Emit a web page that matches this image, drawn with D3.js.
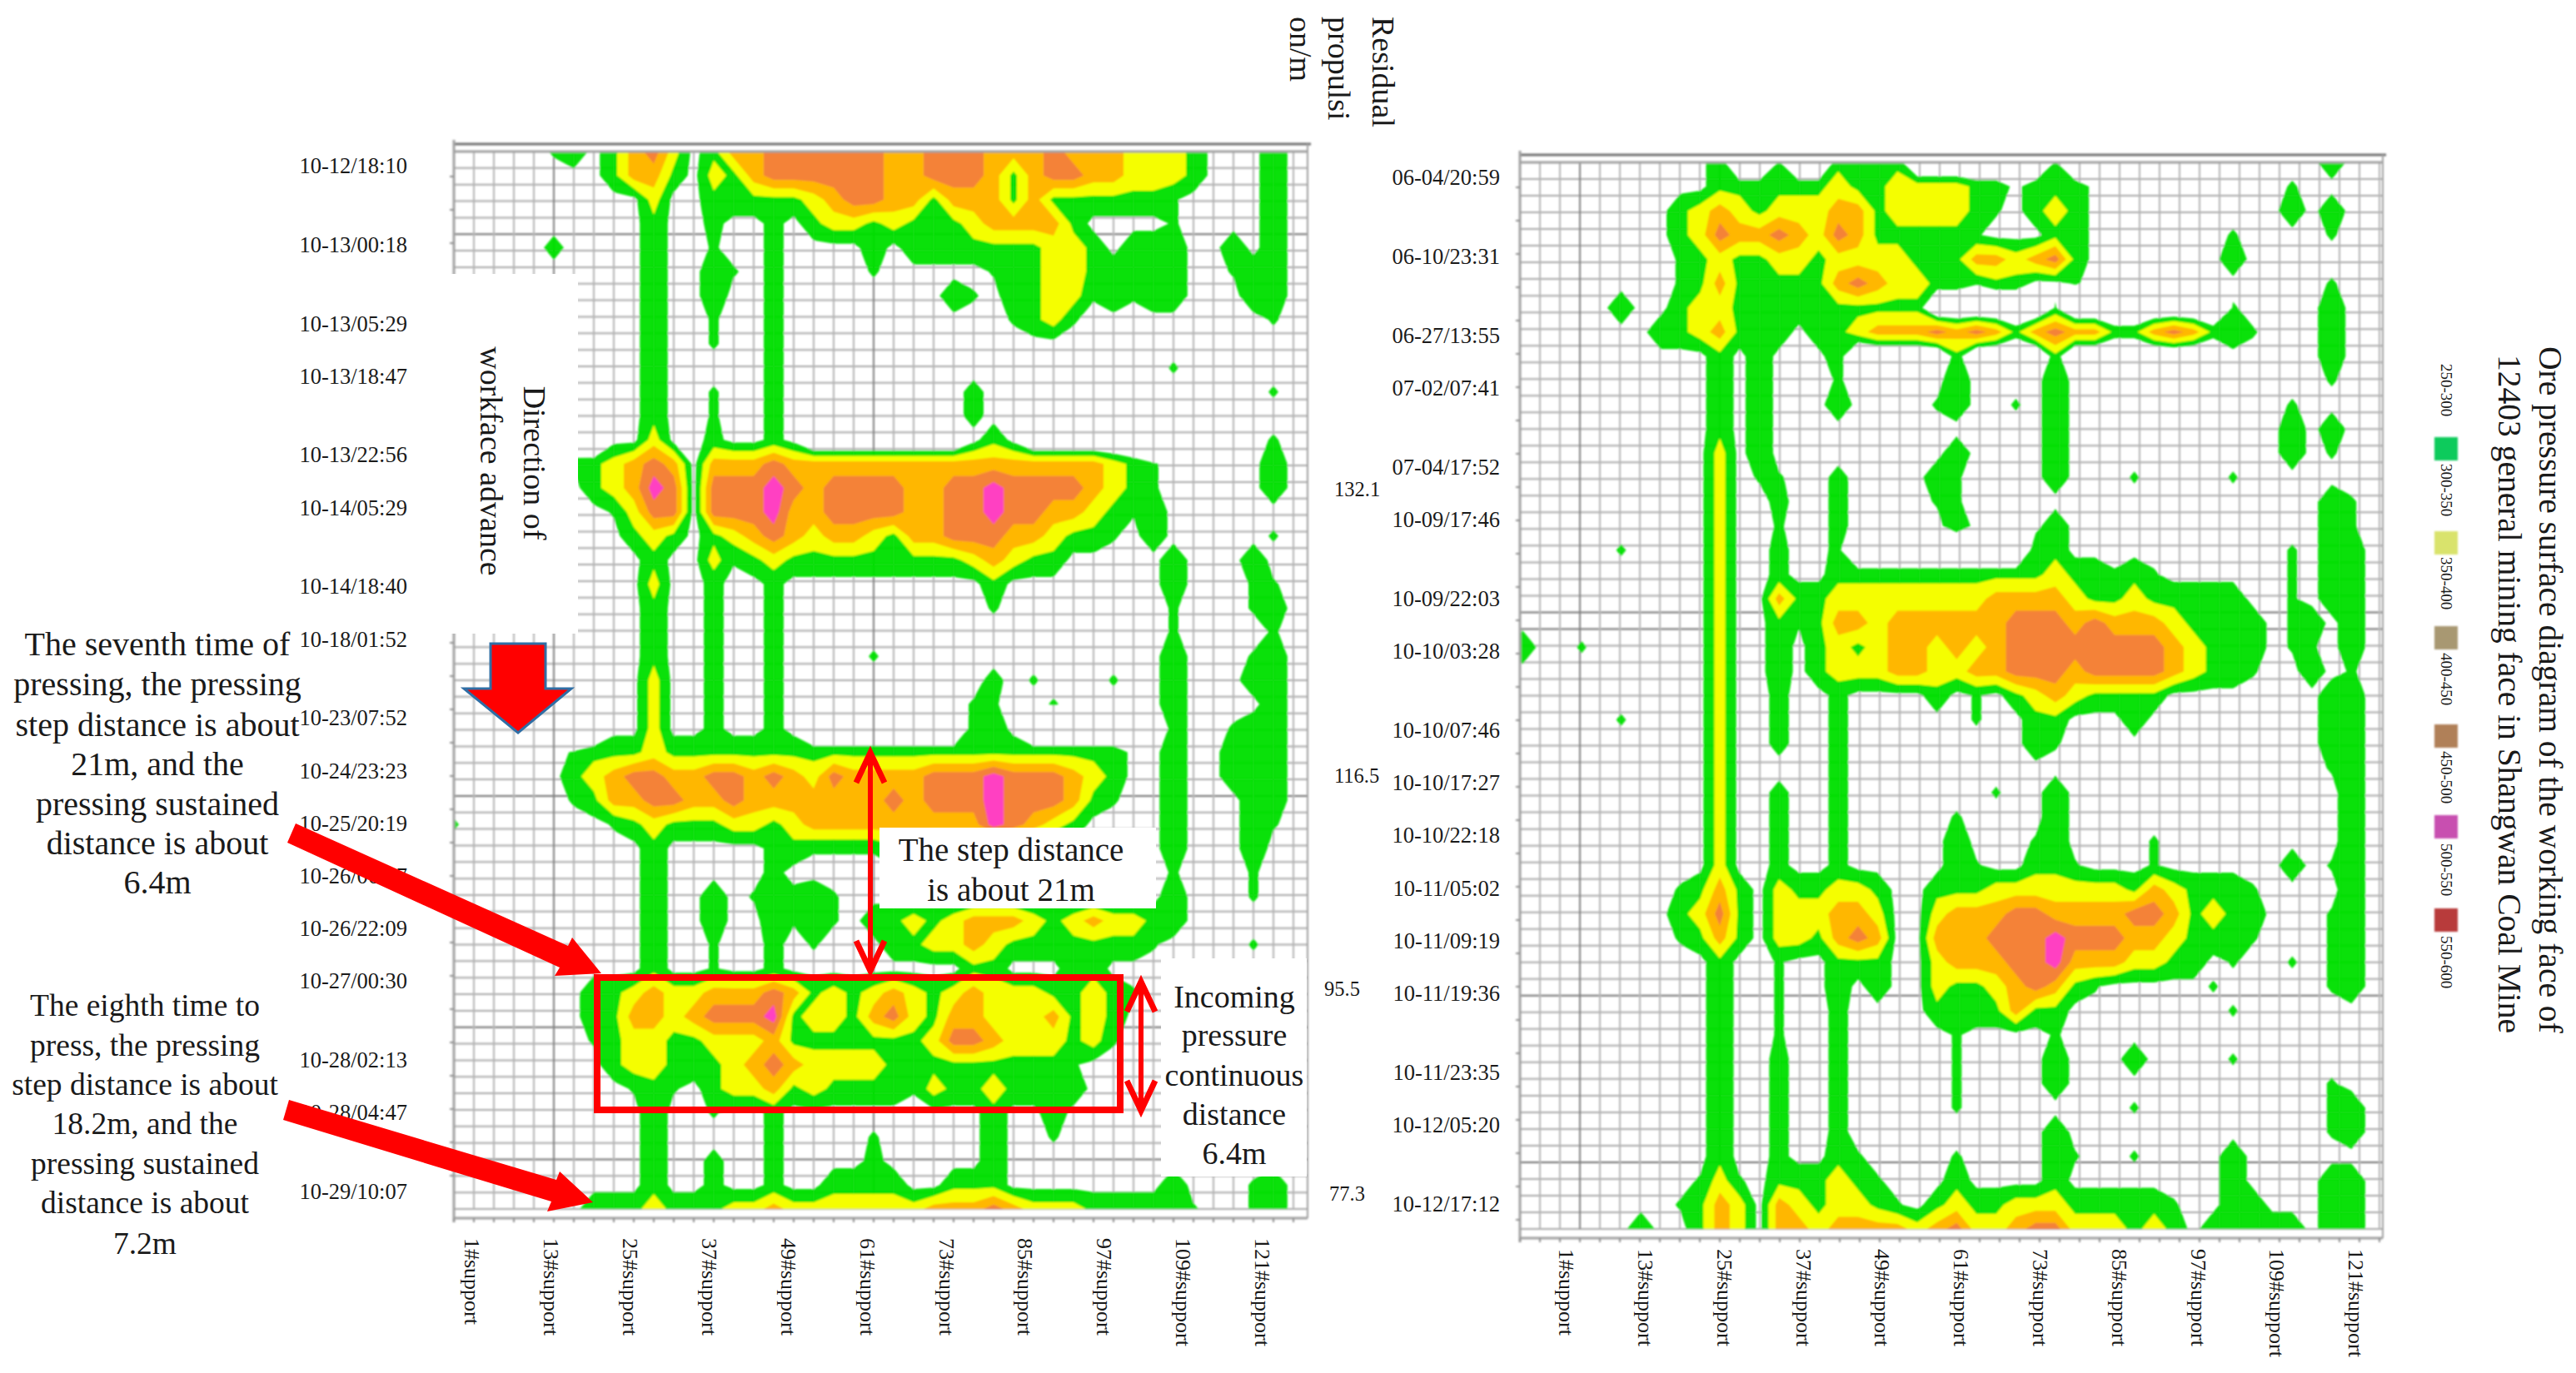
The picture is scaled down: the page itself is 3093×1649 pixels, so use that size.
<!DOCTYPE html>
<html><head><meta charset="utf-8">
<style>html,body{margin:0;padding:0;background:#fff}svg{display:block}text{font-family:"Liberation Serif","Times New Roman",serif;fill:#1a1a1a}</style>
<script src="https://cdn.jsdelivr.net/npm/d3@7"></script></head><body>
<script>
// pressure class codes, one string per time row, one character per third support
const pressureOfCode = {".":150,"0":235,"a":255,"b":265,"1":285,"2":325,"3":375,"4":425,"5":475};
const bandThresholds = [250,300,350,400,450];
const bandColors = ["#00e000","#ffff00","#ffb400","#f4803a","#ff3cc8"];
const octoberRows = [
"0000 0a10 1342 0133 4444 4433 4443 3343 3322 2100 0100",
"0000 0000 1331 0213 4444 4433 4443 1344 3322 2100 0100",
"0000 0000 0020 0111 1123 4433 1333 1311 1111 a000 0100",
"0000 0000 0010 0b00 b012 2121 1123 3331 0000 a000 0100",
"0000 0b00 0010 0a00 b000 0101 1111 1122 1011 1001 0100",
"0000 0000 0010 01a0 b000 0a00 000a 1122 111a 100a 1100",
"0000 0000 0010 0100 b000 0000 01a0 1122 a1a1 1000 1100",
"0000 0000 0010 0a00 b000 0000 0000 a12a 0000 0000 0a00",
"0000 0000 0010 0a00 b000 0000 0000 0000 0000 0000 0000",
"0000 0000 0010 0000 b000 0000 0000 0000 0000 a000 0000",
"0000 0000 0010 0a00 b000 0000 00b0 0000 0000 0000 0a00",
"0000 0000 0010 0a00 b000 0000 00b0 0000 0000 0000 0000",
"0000 000. 0020 0b00 b0.. .... ..01 0... .... 0000 0a00",
"0000 00a1 2343 0333 4333 3333 3333 3333 321a 0000 0100",
"0000 0001 2354 0444 5434 4443 3445 4444 321a 0000 0100",
"0000 0000 a244 0444 5334 4443 3445 4433 21a1 0000 0000",
"0000 0000 0121 0123 4323 3213 3444 3321 1a01 0000 0a00",
"0000 0000 0010 02a1 2111 1111 1123 2110 0000 1000 1000",
"0000 0000 0020 0b00 b000 0000 0001 0000 0000 1000 aa00",
"0000 0000 0010 0b00 b000 0000 000a 0000 0000 a000 a100",
"0000 0000 0010 0b00 b000 0000 0000 0000 0000 a000 0a00",
"0000 0000 0010 0b00 b000 0a00 0000 0000 0000 1000 a100",
"0000 0000 0020 0b00 b000 0000 000b 0a00 0a00 1000 1100",
"0000 0000 0020 0b00 b000 0000 00aa 00a0 0000 1000 0100",
"0000 00.. 0020 0b00 b0.. .... ..11 0... .... 100a 1100",
"0000 00a1 1121 1111 1111 1111 1111 1111 1100 1001 a100",
"0000 0012 3443 3443 4324 3333 4445 4443 2100 1001 a100",
"0000 00a1 3344 3343 3333 3343 4445 4443 1a00 1000 1100",
"a000 0000 a121 1122 1233 3333 3335 4321 0000 1000 1a00",
"0000 0000 0010 0000 b1aa aa11 0000 0000 0000 1000 1000",
"0000 0000 0010 0000 b000 0000 0000 0000 0000 a000 a000",
"0000 0000 0010 010a 1b1a 0000 0000 0000 0000 1000 a000",
"0000 0000 0010 0100 1a1a 0112 1233 3212 3221 1000 0000",
"0000 0000 0010 0a00 b0a0 0011 2232 1111 111a 0000 a000",
"0000 0000 0010 0a00 b000 0000 0011 0001 1000 0000 0000",
"0000 0001 1232 2333 4312 1232 1232 2211 21a0 0000 0000",
"0000 0001 1332 3444 5122 1342 1332 2231 2100 0000 0000",
"0000 000a 1221 1222 3111 1111 2443 2221 2a00 0000 0000",
"0000 0000 1221 1123 4322 2211 1111 111a 0000 0000 0000",
"0000 0000 0a1a 0122 3121 111a 2112 1111 0000 0000 0000",
"0000 0000 0010 0a00 b000 0000 0001 0010 0000 0000 0000",
"0000 0000 0010 0000 b000 0a00 0001 00a0 0000 0000 0000",
"0000 0000 0010 0b00 b000 0b00 0001 0000 0000 0000 0000",
"0000 0000 0010 0b00 b001 1110 0111 0000 0000 1000 a100",
"0000 0001 1121 1122 3222 2222 3334 3222 1111 1a00 a100"
];
const juneRows = [
"0000 0000 001. .a.. 1111 .... ...a .... 0000 0000 0100",
"0000 0000 0011 1111 2112 2221 1011 1000 0000 000a 0000",
"0000 0000 1232 1222 3312 2221 a012 1000 0000 0001 0100",
"0000 0000 1243 3432 4311 111a 0001 1000 0000 a000 0a00",
"0000 0000 a121 1221 2222 1113 3234 1000 0000 1000 0000",
"0000 0000 a131 1111 3432 211a 1100 a000 0000 0000 0a00",
"0000 0100 1221 111a 1111 1... ...a .... .... a000 0100",
"0000 0001 1231 1101 1233 3434 3134 3311 3431 1a00 0100",
"0000 0000 0010 1000 1... ..1. ...1 .... .... 0000 0100",
"0000 0000 0010 1000 a000 0010 0001 0000 0000 0000 0a00",
"0000 0000 0010 1000 1000 0a10 0a01 0000 0000 000a 0000",
"0000 0000 0010 1000 0000 0000 0001 0000 0000 0001 0100",
"0000 0000 0020 1000 0000 0010 0001 0000 0000 0001 0a00",
"0000 0000 0020 aa00 b000 01a0 0001 000a 0000 a000 0000",
"0000 0000 0020 0b00 b000 0aa0 0000 0000 0000 0000 01a0",
"0000 0000 0020 0a00 b000 0010 0001 0000 0000 0000 01a0",
"0000 0a00 0020 0b00 b... .... ..11 0000 0000 000a 0110",
"0000 0000 0020 0b00 1111 1111 1112 11a1 a000 000a 0110",
"0000 0000 0020 0311 2222 2222 3333 2112 1111 100a 0110",
"0000 0000 0020 01a1 3323 3333 3444 3433 3211 110a 1010",
"100a 0000 0020 0101 2123 3232 3444 4444 4321 110a a010",
"0000 0000 0020 0101 2223 3223 3444 3444 4321 1a00 10a0",
"0000 0000 0020 0b00 b000 010a 0123 2111 1000 0000 0110",
"0000 0a00 0020 0b00 b000 000a 0011 0001 0000 0000 0110",
"0000 0000 0020 0b00 b000 0000 001a 0000 0000 0000 0110",
"0000 0000 0020 0000 b000 0000 0000 0000 0000 0000 0a10",
"0000 0000 0020 0b00 b000 0000 a001 0000 0000 0000 0010",
"0000 0000 0020 0b00 b000 00a0 0001 0000 0000 0000 0010",
"0000 0000 0020 0b00 b000 0010 00a1 0000 a000 0000 0010",
"0000 0000 0020 0b00 b000 001a 0011 a000 a000 0001 0a10",
"0000 0000 a131 0211 2210 0111 2222 2221 3211 1a00 0010",
"0000 0000 1241 0222 3320 0233 3443 3334 4312 1100 0a10",
"0000 0000 a131 0221 3430 0333 4445 4443 3211 1a00 0a10",
"0000 0000 0010 0a00 1110 0233 3445 3332 2110 a00a 0a10",
"0000 0000 0010 0a00 1010 0211 2343 1a00 000a 0000 0a10",
"0000 0000 0010 0a00 b000 0111 1311 0000 0000 a000 0000",
"0000 0000 0010 0a00 b000 00a0 000a 0000 0000 0000 0000",
"0000 0000 0010 0b00 b000 00a0 0001 0001 0000 a000 0000",
"0000 0000 0010 0b00 b000 00a0 0001 0000 0000 0000 0a00",
"0000 0000 0010 0b00 b000 00a0 0000 000a 0000 0000 0a10",
"0000 0000 0010 0b00 b000 0000 0001 0000 0000 0000 0a10",
"0000 0000 0010 0b00 1a00 00a0 0001 a00a 0000 1000 0000",
"0000 0000 0a2a 0111 21a0 0010 0001 0000 0000 1000 0110",
"0000 0000 a132 0321 221a 0121 1222 1111 1a00 1100 0110",
"0000 0010 0132 0332 3333 2342 2344 2221 2101 1111 0110"
];
const octoberTimes = ["10-12/18:10","10-13/00:18","10-13/05:29","10-13/18:47","10-13/22:56","10-14/05:29","10-14/18:40","10-18/01:52","10-23/07:52","10-24/23:23","10-25/20:19","10-26/06:37","10-26/22:09","10-27/00:30","10-28/02:13","10-28/04:47","10-29/10:07"];
const juneTimes = ["06-04/20:59","06-10/23:31","06-27/13:55","07-02/07:41","07-04/17:52","10-09/17:46","10-09/22:03","10-10/03:28","10-10/07:46","10-10/17:27","10-10/22:18","10-11/05:02","10-11/09:19","10-11/19:36","10-11/23:35","10-12/05:20","10-12/17:12"];
const timeTickSteps = [0,3,6,8,11,13,16,18,21,23,25,27,29,31,34,36,39];
const supports = ["1#support","13#support","25#support","37#support","49#support","61#support","73#support","85#support","97#support","109#support","121#support"];
const residualValues = ["132.1","116.5","95.5","77.3"];
const legendLabels = ["250-300","300-350","350-400","400-450","450-500","500-550","550-600"];
const legendColors = ["#0dcb5b","#d9e36c","#a89872","#b08058","#c850b0","#b83a3a"];

const W=3093,H=1649;
const svg=d3.select("body").append("svg").attr("width",W).attr("height",H).attr("viewBox",`0 0 ${W} ${H}`);
const defs=svg.append("defs");
defs.append("filter").attr("id","soft").append("feGaussianBlur").attr("stdDeviation",0.9);

function panel(id,rows,times,cfg){
  const ncol=44,nrow=rows.length;
  const values=rows.flatMap(r=>Array.from(r.replace(/ /g,"").padEnd(ncol,"0").slice(0,ncol)).map(c=>pressureOfCode[c]));
  const x=d3.scaleLinear().domain([0.5,ncol-0.5]).range([cfg.x0,cfg.x0+cfg.dx*(ncol-1)]);
  const y=d3.scaleLinear().domain([0.5,nrow-0.5]).range([cfg.top,cfg.bottom]);
  const g=svg.append("g");
  const plot=g.append("g").attr("filter","url(#soft)");
  const gx=d3.range(cfg.left,cfg.right+1,24), gy=d3.range(cfg.top,cfg.bottom+1,(cfg.bottom-cfg.top)/64);
  plot.append("g").selectAll("line").data(gy).join("line").attr("x1",cfg.left).attr("x2",cfg.right).attr("y1",d=>d).attr("y2",d=>d)
    .attr("stroke",(d,i)=>cfg.heavyY.includes(i)?"#707070":"#a8a8a8").attr("stroke-width",2);
  plot.append("g").selectAll("line").data(gx).join("line").attr("x1",d=>d).attr("x2",d=>d).attr("y1",cfg.top).attr("y2",cfg.bottom)
    .attr("stroke",(d,i)=>cfg.heavyX.includes(i)?"#808080":"#b4b4b4").attr("stroke-width",2);
  defs.append("clipPath").attr("id","clip"+id).append("rect").attr("x",cfg.left).attr("y",cfg.top).attr("width",cfg.right-cfg.left).attr("height",cfg.bottom-cfg.top);
  const path=d3.geoPath(d3.geoTransform({point(px,py){this.stream.point(x(px),y(py));}}));
  const contours=d3.contours().size([ncol,nrow]).thresholds(bandThresholds)(values);
  plot.append("g").attr("clip-path",`url(#clip${id})`).selectAll("path").data(contours).join("path")
    .attr("d",path).attr("fill",(d,i)=>bandColors[i]).attr("fill-opacity",0.96);
  // axis frame
  plot.append("line").attr("x1",cfg.left).attr("x2",cfg.right+4).attr("y1",cfg.top-9).attr("y2",cfg.top-9).attr("stroke","#707070").attr("stroke-width",3);
  plot.append("line").attr("x1",cfg.left).attr("x2",cfg.right).attr("y1",cfg.top).attr("y2",cfg.top).attr("stroke","#a0a0a0").attr("stroke-width",3);
  plot.append("line").attr("x1",cfg.left).attr("x2",cfg.right).attr("y1",cfg.bottom+11).attr("y2",cfg.bottom+11).attr("stroke","#a0a0a0").attr("stroke-width",3);
  plot.append("line").attr("x1",cfg.left).attr("x2",cfg.left).attr("y1",cfg.top-14).attr("y2",cfg.bottom+16).attr("stroke","#a0a0a0").attr("stroke-width",3);
  plot.append("line").attr("x1",cfg.right).attr("x2",cfg.right).attr("y1",cfg.top-9).attr("y2",cfg.bottom+11).attr("stroke","#a0a0a0").attr("stroke-width",2);
  plot.append("g").selectAll("line").data(gx).join("line").attr("x1",d=>d).attr("x2",d=>d).attr("y1",cfg.bottom+11).attr("y2",cfg.bottom+16).attr("stroke","#909090").attr("stroke-width",2);
  plot.append("g").selectAll("line").data(d3.range(cfg.top+30,cfg.bottom,40)).join("line").attr("x1",cfg.left-5).attr("x2",cfg.left).attr("y1",d=>d).attr("y2",d=>d).attr("stroke","#909090").attr("stroke-width",2);
  // time labels
  const ty=d3.scaleLinear().domain([0,39]).range(cfg.timeRange);
  g.append("g").selectAll("text").data(times).join("text").attr("x",cfg.timeX).attr("y",(d,i)=>ty(timeTickSteps[i])).attr("dy","0.34em")
    .attr("text-anchor","end").attr("font-size",26.5).text(d=>d);
  // support labels
  const sx=d3.scalePoint().domain(supports).range(cfg.supportRange);
  g.append("g").selectAll("text").data(supports).join("text")
    .attr("transform",d=>`translate(${sx(d)},${cfg.supportY}) rotate(90)`).attr("dy","0.34em").attr("font-size",26).text(d=>d);
}

panel("L",octoberRows,octoberTimes,{x0:545,dx:24,left:545,right:1570,top:182,bottom:1452,timeX:489,timeRange:[199,1431],supportRange:[567,1516],supportY:1487,heavyX:[5,21],heavyY:[5,39,53,61]});
panel("R",juneRows,juneTimes,{x0:1828,dx:23.7,left:1825,right:2861,top:195,bottom:1476,timeX:1801,timeRange:[213,1446],supportRange:[1881,2829],supportY:1500,heavyX:[3,10],heavyY:[27,28,50,60]});

// masks and annotations
const ann=svg.append("g");
ann.append("rect").attr("x",532).attr("y",329).attr("width",162).attr("height",432).attr("fill","#fff");
function rotText(txt,cx,cy,fs,anchor="middle"){ann.append("text").attr("transform",`translate(${cx},${cy}) rotate(90)`).attr("text-anchor",anchor).attr("dy","0.34em").attr("font-size",fs).text(txt);}
rotText("Direction of",642,556,38);
rotText("workface advance",590,554,38);
ann.append("polygon").attr("points","589,773 655,773 655,827 686,827 622,880 557,827 589,827").attr("fill","#f00").attr("stroke","#2f6ea5").attr("stroke-width",3);
ann.append("rect").attr("x",717).attr("y",1174).attr("width",628).attr("height",159).attr("fill","none").attr("stroke","#f00").attr("stroke-width",8);
ann.append("polygon").attr("points","355,989 682,1136 687,1126 722,1169 666,1172 672,1162 345,1012").attr("fill","#f00");
ann.append("polygon").attr("points","347,1321 668,1417 672,1407 712,1444 657,1455 662,1443 340,1345").attr("fill","#f00");
function dbl(x,y1,y2){
  ann.append("line").attr("x1",x).attr("x2",x).attr("y1",y1+4).attr("y2",y2-4).attr("stroke","#f00").attr("stroke-width",6);
  ann.append("path").attr("d",`M${x-17},${y1+36} L${x},${y1} L${x+17},${y1+36}`).attr("fill","none").attr("stroke","#f00").attr("stroke-width",7);
  ann.append("path").attr("d",`M${x-17},${y2-36} L${x},${y2} L${x+17},${y2-36}`).attr("fill","none").attr("stroke","#f00").attr("stroke-width",7);
}
ann.append("rect").attr("x",1056).attr("y",994).attr("width",332).attr("height",97).attr("fill","#fff");
ann.append("rect").attr("x",1394).attr("y",1151).attr("width",175).attr("height",262).attr("fill","#fff");
dbl(1045,904,1166); dbl(1370,1179,1334);
function block(lines,cx,ys,fs){ann.append("g").selectAll("text").data(lines).join("text").attr("x",cx).attr("y",(d,i)=>ys[i]).attr("dy","0.34em").attr("text-anchor","middle").attr("font-size",fs).text(d=>d);}
block(["The step distance","is about 21m"],1214,[1021,1069],39);
block(["Incoming","pressure","continuous","distance","6.4m"],1482,[1197,1243,1291,1338,1385],38);
block(["The seventh time of","pressing, the pressing","step distance is about","21m, and the","pressing sustained","distance is about","6.4m"],189,[773,821,870,917,965,1012,1059],40);
block(["The eighth time to","press, the pressing","step distance is about","18.2m, and the","pressing sustained","distance is about","7.2m"],174,[1207,1255,1302,1349,1397,1444,1493],37.5);
rotText("Residual",1661,20,38,"start");
rotText("propulsi",1608,20,38,"start");
rotText("on/m",1562,20,38,"start");
const rx=[1602,1602,1590,1596],ry=[588,932,1188,1434];
ann.append("g").selectAll("text").data(residualValues).join("text").attr("x",(d,i)=>rx[i]).attr("y",(d,i)=>ry[i]).attr("dy","0.34em").attr("font-size",24.5).text(d=>d);
// title and legend
rotText("Ore pressure surface diagram of the working face of",3062,416,39.5,"start");
rotText("12403 general mining face in Shangwan Coal Mine",3013,426,39.5,"start");
const ly=[437,557,669,784,902,1013,1124], sy=[525,638,752,870,979,1091];
ann.append("g").selectAll("text").data(legendLabels).join("text").attr("transform",(d,i)=>`translate(2937,${ly[i]}) rotate(90)`).attr("dy","0.34em").attr("font-size",19).text(d=>d);
ann.append("g").attr("filter","url(#soft)").selectAll("rect").data(legendColors).join("rect").attr("x",2923).attr("y",(d,i)=>sy[i]).attr("width",28).attr("height",28).attr("fill",d=>d);
</script></body></html>
